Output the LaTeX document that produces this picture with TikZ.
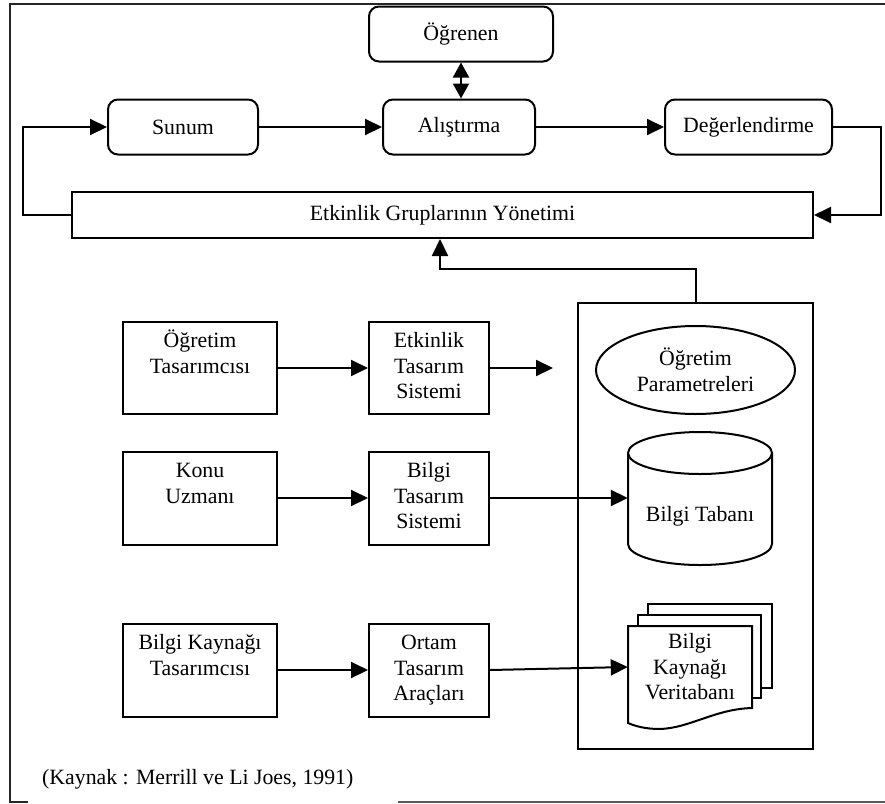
\documentclass[tikz,border=0pt]{standalone}
\usepackage{fontspec}
\setmainfont{Liberation Serif}
\usetikzlibrary{arrows.meta,shapes.geometric}
\begin{document}
\begin{tikzpicture}[x=1pt,y=-1pt,
  every node/.style={font=\fontsize{21.8}{25.5}\selectfont, inner sep=0pt, align=center},
  ln/.style={line width=2pt},
  rbox/.style={ln, draw, rounded corners=10pt, minimum height=55pt, minimum width=#1},
  sbox/.style={ln, draw, rectangle, minimum width=#1, minimum height=93pt},
  arr/.style={ln, -{Triangle[length=17pt,width=16pt]}},
  biarr/.style={ln, {Triangle[length=15pt,width=16pt]}-{Triangle[length=15pt,width=16pt]}},
  frameline/.style={line width=2pt, black!85},
  page/.style={ln, draw, fill=white}
]
\useasboundingbox (0,0) rectangle (885,803);

% outer frame
\draw[frameline] (28,802) -- (10,802) -- (10,4) -- (885,4);
\draw[line width=1.6pt, black!65] (398,802) -- (885,802);

% top cycle
\node[rbox=184pt] (ogrenen) at (461,34) {Öğrenen};
\node[rbox=150pt] (sunum) at (183,127) {Sunum};
\node[rbox=152pt] (alistirma) at (459,127) {Alıştırma};
\node[rbox=167pt] (deger) at (748.5,127) {Değerlendirme};
\node[ln, draw, rectangle, minimum width=741pt, minimum height=46pt] (yonetim) at (442.5,215)
  {Etkinlik Gruplarının Yönetimi};

\draw[biarr] (ogrenen.south) -- (ogrenen.south |- alistirma.north);
\draw[arr] (sunum) -- (alistirma);
\draw[arr] (alistirma) -- (deger);
\draw[arr] (deger.east) -- ++(48,0) |- (yonetim.east);
\draw[arr] (yonetim.west) -- ++(-48,0) |- (sunum.west);

% designers and design tools
\node[sbox=154pt, minimum height=92pt] (ot) at (200,368) {\strut Öğretim\\\strut Tasarımcısı\\\strut};
\node[sbox=120pt, minimum height=92pt] (ets) at (429,368) {\strut Etkinlik\\\strut Tasarım\\\strut Sistemi};
\node[sbox=154pt] (ku) at (200,498) {\strut Konu\\\strut Uzmanı\\\strut};
\node[sbox=120pt] (bts) at (429,498) {\strut Bilgi\\\strut Tasarım\\\strut Sistemi};
\node[sbox=154pt] (bkt) at (200,670) {\strut Bilgi Kaynağı\\\strut Tasarımcısı\\\strut};
\node[sbox=120pt] (ota) at (429,670) {\strut Ortam\\\strut Tasarım\\\strut Araçları};

% storage container
\node[ln, draw, rectangle, minimum width=235pt, minimum height=446pt] (depo) at (695.5,526) {};
\node[ln, draw, ellipse, minimum width=199pt, minimum height=88pt] (param) at (695.5,370)
  {Öğretim\\Parametreleri};

% knowledge base cylinder
\draw[ln, fill=white] (628,453) -- (628,544)
  arc[start angle=180, end angle=360, x radius=72pt, y radius=21pt] -- (772,453);
\draw[ln] (700,453) ellipse [x radius=72pt, y radius=21pt];
\node[minimum width=144pt, minimum height=132pt] (tabani) at (700,498) {};
\node at (700,516) {Bilgi Tabanı};

% resource database document stack
\draw[page] (648,604) rectangle (772,688);
\draw[page] (638,615) rectangle (761,698);
\draw[page] (628,626) -- (752,626) -- (752,708)
  .. controls (715,709) and (690,728) .. (660,729)
  .. controls (645,729) and (635,726) .. (628,723) -- cycle;
\node[minimum width=124pt, minimum height=82pt] (kaynakdb) at (690,667) {Bilgi\\Kaynağı\\Veritabanı};

% flows into the container
\coordinate (etsend) at (553,368);
\draw[arr] (ot.east |- ets.west) -- (ets.west);
\draw[arr] (ets.east) -- (etsend);
\draw[arr] (ku.east) -- (bts.west);
\draw[arr] (bts.east) -- (tabani.west);
\draw[arr] (bkt.east) -- (ota.west);
\draw[arr] (ota.east) -- (kaynakdb.west);

% container feeds back to group management
\coordinate (turn) at (440,269);
\draw[arr] (depo.north) |- (turn) -- (turn |- yonetim.south);

% source note
\node[anchor=west] (kaynak) at (42,779) {(Kaynak : Merrill ve Li Joes, 1991)};
\end{tikzpicture}
\end{document}
